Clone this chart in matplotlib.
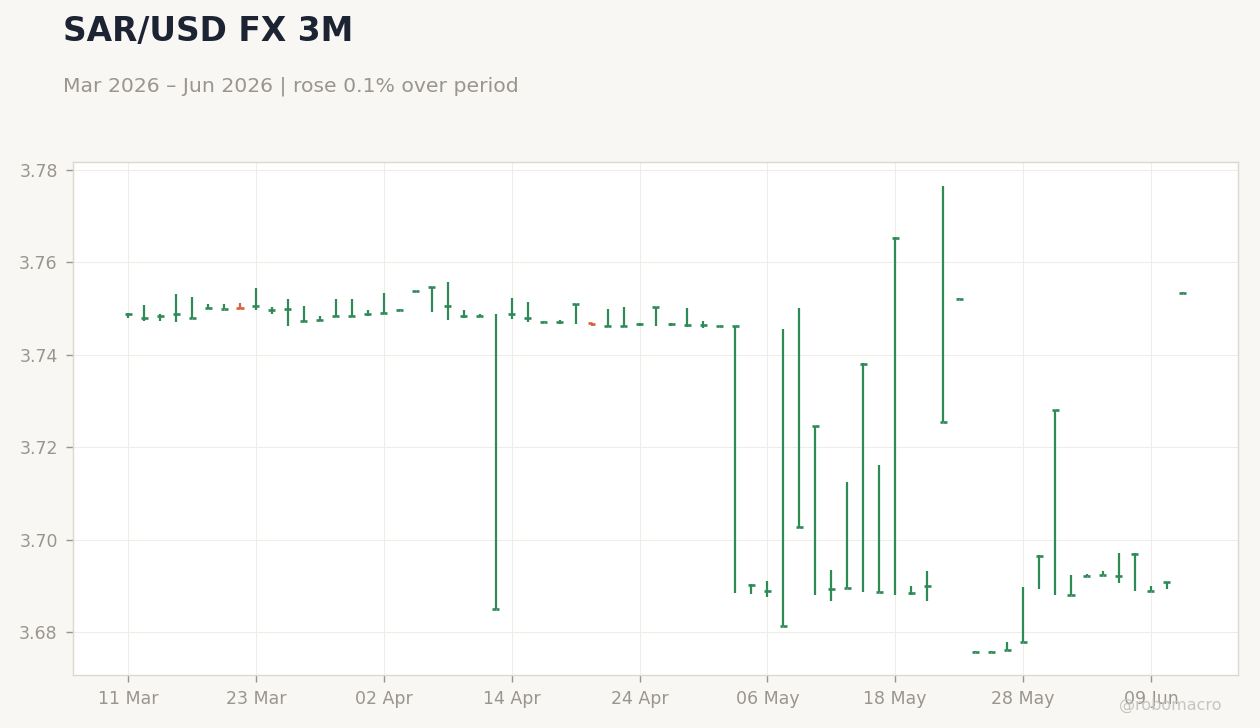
import matplotlib
matplotlib.use("Agg")
import matplotlib.pyplot as plt
import pandas as pd
import numpy as np

dates = pd.bdate_range("2026-03-11", periods=67)

opens = [3.7489, 3.7480, 3.7483, 3.7488, 3.7480, 3.7502, 3.7500, 3.7502, 3.7505, 3.7498,
         3.7500, 3.7474, 3.7475, 3.7485, 3.7485, 3.7488, 3.7491, 3.7498, 3.7537, 3.7546,
         3.7506, 3.7484, 3.7485, 3.6850, 3.7488, 3.7480, 3.7472, 3.7471, 3.7509, 3.7469,
         3.7463, 3.7463, 3.7466, 3.7503, 3.7466, 3.7465, 3.7465, 3.7462, 3.7462, 3.6902,
         3.6889, 3.6812, 3.7027, 3.7245, 3.6892, 3.6896, 3.7381, 3.6887, 3.7653, 3.6885,
         3.6900, 3.7255, 3.7521, 3.6757, 3.6757, 3.6762, 3.6779, 3.6965, 3.7281, 3.6880,
         3.6922, 3.6924, 3.6922, 3.6969, 3.6889, 3.6908, 3.7534]
highs = [3.7491, 3.7508, 3.7488, 3.7532, 3.7525, 3.7510, 3.7510, 3.7512, 3.7545, 3.7504,
         3.7521, 3.7506, 3.7483, 3.7521, 3.7521, 3.7497, 3.7534, 3.7499, 3.7539, 3.7547,
         3.7558, 3.7497, 3.7488, 3.7488, 3.7523, 3.7514, 3.7474, 3.7475, 3.7510, 3.7469,
         3.7499, 3.7504, 3.7468, 3.7504, 3.7468, 3.7501, 3.7473, 3.7463, 3.7462, 3.6903,
         3.6910, 3.7456, 3.7501, 3.7246, 3.6934, 3.7125, 3.7382, 3.7162, 3.7654, 3.6900,
         3.6932, 3.7765, 3.7522, 3.6758, 3.6758, 3.6778, 3.6897, 3.6966, 3.7281, 3.6923,
         3.6925, 3.6932, 3.6971, 3.6970, 3.6900, 3.6909, 3.7535]
lows = [3.7479, 3.7474, 3.7474, 3.7470, 3.7479, 3.7499, 3.7499, 3.7500, 3.7496, 3.7489,
        3.7463, 3.7470, 3.7473, 3.7481, 3.7481, 3.7485, 3.7488, 3.7497, 3.7535, 3.7493,
        3.7476, 3.7480, 3.7481, 3.6850, 3.7478, 3.7472, 3.7470, 3.7467, 3.7466, 3.7462,
        3.7460, 3.7461, 3.7462, 3.7463, 3.7463, 3.7461, 3.7457, 3.7461, 3.6884, 3.6883,
        3.6876, 3.6812, 3.7026, 3.6881, 3.6868, 3.6895, 3.6887, 3.6887, 3.6881, 3.6881,
        3.6868, 3.7254, 3.7520, 3.6756, 3.6756, 3.6761, 3.6778, 3.6892, 3.6881, 3.6879,
        3.6921, 3.6923, 3.6907, 3.6889, 3.6888, 3.6892, 3.7533]
closes = [3.7489, 3.7480, 3.7483, 3.7488, 3.7480, 3.7502, 3.7500, 3.7501, 3.7505, 3.7498,
          3.7500, 3.7474, 3.7475, 3.7485, 3.7485, 3.7488, 3.7491, 3.7498, 3.7537, 3.7546,
          3.7506, 3.7484, 3.7485, 3.6850, 3.7488, 3.7480, 3.7472, 3.7471, 3.7509, 3.7467,
          3.7463, 3.7463, 3.7466, 3.7503, 3.7466, 3.7465, 3.7465, 3.7462, 3.7462, 3.6902,
          3.6889, 3.6812, 3.7027, 3.7245, 3.6892, 3.6896, 3.7381, 3.6887, 3.7653, 3.6885,
          3.6900, 3.7255, 3.7521, 3.6757, 3.6757, 3.6762, 3.6779, 3.6965, 3.7281, 3.6880,
          3.6922, 3.6924, 3.6922, 3.6969, 3.6889, 3.6908, 3.7534]
ytick_values = [3.68, 3.70, 3.72, 3.74, 3.76, 3.78]

UP = "#2e8b57"
DOWN = "#d9623b"
BG = "#f8f7f4"

fig = plt.figure(figsize=(12.6, 7.28), dpi=100, facecolor=BG)
ax = fig.add_axes([73 / 1260, 53 / 728, (1238 - 73) / 1260, (675 - 162) / 728])
ax.set_facecolor("white")

x = np.arange(len(dates))
o = np.array(opens); h = np.array(highs); l = np.array(lows); c = np.array(closes)
colors = [UP if cc >= oo else DOWN for oo, cc in zip(o, c)]
tw = 0.22
ax.vlines(x, l, h, colors=colors, linewidth=1.6, zorder=3)
ax.hlines(o, x - tw, x, colors=colors, linewidth=1.9, zorder=3)
ax.hlines(c, x, x + tw, colors=colors, linewidth=1.9, zorder=3)

ax.set_xlim(-3.45, 69.45)
ax.set_ylim(3.67069, 3.78173)
ticks = list(range(0, len(dates), 8))
ax.set_xticks(ticks)
ax.set_xticklabels([dates[i].strftime("%d %b") for i in ticks])
ax.set_yticks(ytick_values)
ax.set_yticklabels(["%.2f" % v for v in ytick_values])
ax.grid(True, color="#efedea", linewidth=0.8, zorder=0)
ax.set_axisbelow(True)
for s in ax.spines.values():
    s.set_color("#ddd8d0")
    s.set_linewidth(1.0)
ax.tick_params(axis="both", colors="#9a958f", labelsize=12.5, length=5, width=1, pad=6)

fig.text(63 / 1260, 1 - 31 / 728, "SAR/USD FX 3M", fontsize=23.7, fontweight="bold",
         color="#1c2333", va="center", ha="left")
fig.text(63 / 1260, 1 - 86 / 728, "Mar 2026 \u2013 Jun 2026 | rose 0.1% over period",
         fontsize=14.65, color="#9a958f", va="center", ha="left")
fig.text(1222 / 1260, 1 - 705 / 728, "@robomacro", fontsize=11.5, color="#c8c5c0",
         va="center", ha="right")

fig.savefig("out.png", dpi=100, facecolor=BG)
